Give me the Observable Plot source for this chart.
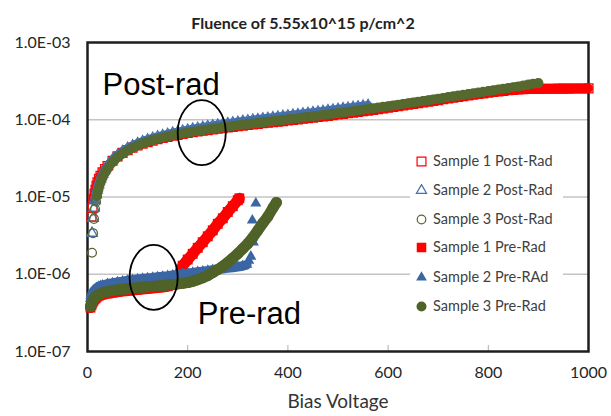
<!DOCTYPE html>
<html>
<head>
<meta charset="utf-8">
<script src="https://cdn.jsdelivr.net/npm/d3@7"></script>
<script src="https://cdn.jsdelivr.net/npm/@observablehq/plot@0.6"></script>
<style>
  html, body { margin: 0; padding: 0; background: #fff; }
  #wrap { position: relative; width: 611px; height: 416px; overflow: hidden; }
  #legend { position: absolute; left: 410px; top: 146px; width: 153px; height: 174px; background: #fff; font-family: Lato, "Open Sans", sans-serif; font-size: 14.5px; color: #404040; }
  .lrow { position: absolute; left: 0; height: 18px; line-height: 18px; white-space: nowrap; }
  .lrow svg { position: absolute; left: 5px; top: 3px; }
  .lrow span { position: absolute; left: 23px; top: 0; }
</style>
</head>
<body>
<div id="wrap"><div id="chart"></div><div id="legend"></div></div>
<script>
// ---- text / ticks ----
const chartTitle = "Fluence of 5.55x10^15 p/cm^2";
const xLabel = "Bias Voltage";
const xTicks = [0, 200, 400, 600, 800, 1000];
const yTicks = [1e-7, 1e-6, 1e-5, 1e-4, 1e-3];
const gridLevels = [1e-6, 1e-5, 1e-4];
const innerTicks = [200, 400, 600, 800];
const legendLabels = ["Sample 1 Post-Rad", "Sample 2 Post-Rad", "Sample 3 Post-Rad", "Sample 1 Pre-Rad", "Sample 2 Pre-RAd", "Sample 3 Pre-Rad"];

// annotations
const noteLabels = ["Post-rad", "Pre-rad"];
const noteV = [30, 220];
const noteI = [2.83e-4, 3.07e-7];
const ringV = [228, 132];
const ringI = [6.8e-5, 9.1e-7];

// ---- series: [bias voltage, current] ----
const post1 = [[8,5.6e-6],[10,7.3e-6],[12,9.4e-6],[14,1.1e-5],[16,1.24e-5],[18,1.4e-5],[20,1.55e-5],[23,1.72e-5],[26,1.88e-5],[30,2.08e-5],[35,2.3e-5],[40,2.52e-5],[50,2.95e-5],[60,3.35e-5],[70,3.72e-5],[80,4.05e-5],[90,4.36e-5],[100,4.64e-5],[110,4.9e-5],[120,5.14e-5],[130,5.37e-5],[140,5.59e-5],[150,5.8e-5],[160,6.0e-5],[170,6.2e-5],[180,6.38e-5],[190,6.56e-5],[200,6.74e-5],[210,6.9e-5],[220,7.05e-5],[230,7.2e-5],[240,7.35e-5],[250,7.5e-5],[260,7.65e-5],[270,7.8e-5],[280,7.95e-5],[290,8.1e-5],[300,8.25e-5],[310,8.4e-5],[320,8.55e-5],[330,8.7e-5],[340,8.85e-5],[350,9.0e-5],[360,9.15e-5],[370,9.3e-5],[380,9.46e-5],[390,9.62e-5],[400,9.78e-5],[410,9.95e-5],[420,1.012e-4],[430,1.03e-4],[440,1.048e-4],[450,1.066e-4],[460,1.085e-4],[470,1.105e-4],[480,1.125e-4],[490,1.146e-4],[500,1.168e-4],[510,1.19e-4],[520,1.213e-4],[530,1.237e-4],[540,1.262e-4],[550,1.288e-4],[560,1.315e-4],[570,1.343e-4],[580,1.372e-4],[590,1.402e-4],[600,1.433e-4],[610,1.465e-4],[620,1.498e-4],[630,1.532e-4],[640,1.567e-4],[650,1.603e-4],[660,1.64e-4],[670,1.678e-4],[680,1.717e-4],[690,1.757e-4],[700,1.798e-4],[710,1.84e-4],[720,1.883e-4],[730,1.927e-4],[740,1.972e-4],[750,2.018e-4],[760,2.065e-4],[770,2.11e-4],[780,2.155e-4],[790,2.2e-4],[800,2.245e-4],[810,2.29e-4],[820,2.33e-4],[830,2.37e-4],[840,2.41e-4],[850,2.44e-4],[860,2.47e-4],[870,2.49e-4],[880,2.5e-4],[890,2.51e-4],[900,2.51e-4],[910,2.52e-4],[920,2.52e-4],[930,2.52e-4],[940,2.53e-4],[950,2.53e-4],[960,2.53e-4],[970,2.54e-4],[980,2.54e-4],[990,2.54e-4],[1000,2.55e-4]];

const post2 = [[9,3.4e-6],[11,5.3e-6],[13,7.2e-6],[15,9.0e-6],[17,1.07e-5],[19,1.23e-5],[22,1.45e-5],[26,1.72e-5],[30,1.97e-5],[35,2.25e-5],[40,2.52e-5],[50,3.02e-5],[60,3.47e-5],[70,3.88e-5],[80,4.26e-5],[90,4.6e-5],[100,4.92e-5],[110,5.22e-5],[120,5.5e-5],[130,5.76e-5],[140,6.01e-5],[150,6.25e-5],[160,6.48e-5],[170,6.7e-5],[180,6.92e-5],[190,7.13e-5],[200,7.34e-5],[210,7.54e-5],[220,7.74e-5],[230,7.94e-5],[240,8.14e-5],[250,8.33e-5],[260,8.52e-5],[270,8.71e-5],[280,8.9e-5],[290,9.09e-5],[300,9.28e-5],[310,9.5e-5],[320,9.68e-5],[330,9.86e-5],[340,1.005e-4],[350,1.024e-4],[360,1.043e-4],[370,1.063e-4],[380,1.083e-4],[390,1.104e-4],[400,1.125e-4],[410,1.146e-4],[420,1.168e-4],[430,1.19e-4],[440,1.213e-4],[450,1.236e-4],[460,1.26e-4],[470,1.285e-4],[480,1.31e-4],[490,1.336e-4],[500,1.362e-4],[510,1.389e-4],[520,1.416e-4],[530,1.444e-4],[540,1.472e-4],[550,1.5e-4],[560,1.53e-4]];

const post3 = [[9,1.9e-6],[11,3.4e-6],[13,5.2e-6],[15,7.0e-6],[17,8.7e-6],[19,1.03e-5],[22,1.26e-5],[26,1.53e-5],[30,1.78e-5],[35,2.06e-5],[40,2.33e-5],[50,2.82e-5],[60,3.25e-5],[70,3.64e-5],[80,4.0e-5],[90,4.33e-5],[100,4.64e-5],[110,4.93e-5],[120,5.2e-5],[130,5.45e-5],[140,5.67e-5],[150,5.88e-5],[160,6.08e-5],[170,6.27e-5],[180,6.46e-5],[190,6.64e-5],[200,6.82e-5],[210,6.99e-5],[220,7.16e-5],[230,7.33e-5],[240,7.49e-5],[250,7.65e-5],[260,7.81e-5],[270,7.97e-5],[280,8.13e-5],[290,8.29e-5],[300,8.45e-5],[310,8.61e-5],[320,8.77e-5],[330,8.93e-5],[340,9.09e-5],[350,9.25e-5],[360,9.42e-5],[370,9.59e-5],[380,9.76e-5],[390,9.93e-5],[400,1.011e-4],[410,1.029e-4],[420,1.048e-4],[430,1.067e-4],[440,1.087e-4],[450,1.107e-4],[460,1.128e-4],[470,1.15e-4],[480,1.172e-4],[490,1.195e-4],[500,1.219e-4],[510,1.243e-4],[520,1.268e-4],[530,1.294e-4],[540,1.321e-4],[550,1.348e-4],[560,1.376e-4],[570,1.405e-4],[580,1.435e-4],[590,1.466e-4],[600,1.498e-4],[610,1.531e-4],[620,1.565e-4],[630,1.6e-4],[640,1.636e-4],[650,1.673e-4],[660,1.711e-4],[670,1.75e-4],[680,1.79e-4],[690,1.831e-4],[700,1.873e-4],[710,1.916e-4],[720,1.96e-4],[730,2.005e-4],[740,2.051e-4],[750,2.098e-4],[760,2.146e-4],[770,2.195e-4],[780,2.245e-4],[790,2.296e-4],[800,2.348e-4],[810,2.4e-4],[820,2.46e-4],[830,2.52e-4],[840,2.58e-4],[850,2.64e-4],[860,2.7e-4],[870,2.77e-4],[880,2.85e-4],[890,2.93e-4],[900,2.98e-4]];

const pre1 = [[6,3.7e-7],[8,4.0e-7],[10,4.3e-7],[12,4.55e-7],[14,4.75e-7],[16,4.9e-7],[18,5.05e-7],[22,5.25e-7],[26,5.4e-7],[30,5.5e-7],[40,5.65e-7],[50,5.8e-7],[60,5.95e-7],[70,6.05e-7],[80,6.15e-7],[90,6.25e-7],[100,6.35e-7],[110,6.45e-7],[120,6.55e-7],[130,6.65e-7],[140,6.75e-7],[150,6.85e-7],[160,7.0e-7],[170,7.3e-7],[180,9.0e-7],[190,1.29e-6],[200,1.55e-6],[210,1.84e-6],[220,2.2e-6],[230,2.6e-6],[240,3.1e-6],[250,3.7e-6],[260,4.5e-6],[270,5.3e-6],[280,6.4e-6],[290,7.6e-6],[300,9.1e-6],[303,9.6e-6]];

const pre2 = [[6,4.8e-7],[8,5.3e-7],[10,5.7e-7],[12,6.0e-7],[14,6.25e-7],[16,6.45e-7],[18,6.65e-7],[22,6.9e-7],[26,7.05e-7],[30,7.2e-7],[40,7.5e-7],[50,7.7e-7],[60,7.9e-7],[70,8.1e-7],[80,8.3e-7],[90,8.45e-7],[100,8.6e-7],[110,8.75e-7],[120,8.9e-7],[130,9.05e-7],[140,9.2e-7],[150,9.35e-7],[160,9.5e-7],[170,9.7e-7],[180,9.9e-7],[190,1.01e-6],[200,1.03e-6],[210,1.05e-6],[220,1.07e-6],[230,1.09e-6],[240,1.11e-6],[250,1.14e-6],[260,1.16e-6],[270,1.18e-6],[280,1.2e-6],[290,1.22e-6],[300,1.25e-6],[310,1.28e-6],[318,1.33e-6],[322,1.5e-6],[326,1.7e-6],[331,2.6e-6],[329,5.0e-6],[336,8.3e-6]];

const pre3 = [[6,3.8e-7],[8,4.15e-7],[10,4.45e-7],[12,4.7e-7],[14,4.9e-7],[16,5.05e-7],[18,5.2e-7],[22,5.45e-7],[26,5.6e-7],[30,5.75e-7],[40,6.0e-7],[50,6.15e-7],[60,6.3e-7],[70,6.4e-7],[80,6.5e-7],[90,6.6e-7],[100,6.7e-7],[110,6.8e-7],[120,6.9e-7],[130,6.95e-7],[140,7.05e-7],[150,7.15e-7],[160,7.25e-7],[170,7.35e-7],[180,7.5e-7],[190,7.65e-7],[200,7.8e-7],[210,8.1e-7],[220,8.5e-7],[230,9.0e-7],[240,9.6e-7],[250,1.05e-6],[260,1.15e-6],[270,1.27e-6],[280,1.42e-6],[290,1.62e-6],[300,1.85e-6],[310,2.15e-6],[320,2.5e-6],[330,3.0e-6],[340,3.7e-6],[350,4.6e-6],[360,5.6e-6],[370,7.2e-6],[377,8.5e-6]];

// ---- styling ----
const RED = "#ff0000", BLUE = "#3b66a3", GREEN = "#4f6228";
const BLUE_H = "#4470ad", GREEN_H = "#56692f";

const rows = pairs => pairs.map(([V, I]) => ({V, I}));

// ellipse symbol for annotation rings
const ellipseSymbol = {
  draw(ctx, size) {
    const r = Math.sqrt(size / Math.PI), rx = r * 0.74, ry = r, k = 0.5523;
    ctx.moveTo(rx, 0);
    ctx.bezierCurveTo(rx, k * ry, k * rx, ry, 0, ry);
    ctx.bezierCurveTo(-k * rx, ry, -rx, k * ry, -rx, 0);
    ctx.bezierCurveTo(-rx, -k * ry, -k * rx, -ry, 0, -ry);
    ctx.bezierCurveTo(k * rx, -ry, rx, -k * ry, rx, 0);
    ctx.closePath();
  }
};

const fmtE = d => {
  const [m, e] = d.toExponential(1).split("e");
  const sign = e[0] === "-" ? "-" : "+";
  const digits = e.replace(/^[+-]/, "").padStart(2, "0");
  return `${m}E${sign}${digits}`;
};

const notes = noteLabels.map((t, i) => ({t, V: noteV[i], I: noteI[i]}));
const rings = ringV.map((V, i) => ({V, I: ringI[i]}));

// each series: a dense band (line through the read points) plus its markers
const band = (data, color, width, extra = {}) =>
  Plot.line(data, {x: "V", y: "I", stroke: color, strokeWidth: width, strokeLinecap: "round", strokeLinejoin: "round", ...extra});
const dense = d => d.I >= 9e-6; // the first few post-rad markers stand apart

const chart = Plot.plot({
  width: 611,
  height: 416,
  marginLeft: 87,
  marginRight: 23,
  marginTop: 42,
  marginBottom: 65,
  style: {fontFamily: "Lato, 'Open Sans', sans-serif", fontSize: "16px", color: "#262626", background: "#fff"},
  x: {domain: [0, 1000]},
  y: {type: "log", domain: [1e-7, 1e-3]},
  marks: [
    Plot.ruleY(gridLevels, {stroke: "#c4c4c4", strokeWidth: 1.5}),
    Plot.tickX(innerTicks, {x: d => d, insetTop: 303, stroke: "#b0b0b0", strokeWidth: 1}),
    Plot.frame({stroke: "#1e1e1e", strokeWidth: 2.5}),
    Plot.axisY(yTicks, {tickSize: 0, tickPadding: 17, tickFormat: fmtE, label: null}),
    Plot.axisX(xTicks, {tickSize: 0, tickPadding: 15, tickFormat: d => String(d), label: null}),

    band(rows(post1), RED, 9, {filter: dense}),
    Plot.dot(rows(post1), {x: "V", y: "I", symbol: "square", r: 5, stroke: RED, fill: "none", strokeWidth: 1.3}),
    band(rows(post2), BLUE_H, 9, {filter: dense}),
    Plot.dot(rows(post2), {x: "V", y: "I", symbol: "triangle", r: 3.9, stroke: BLUE_H, fill: "none", strokeWidth: 1.3}),
    band(rows(post3), GREEN_H, 9, {filter: dense}),
    Plot.dot(rows(post3), {x: "V", y: "I", symbol: "circle", r: 4.4, stroke: GREEN_H, fill: "none", strokeWidth: 1.3}),

    band(rows(pre1), RED, 11),
    Plot.dot(rows(pre1), {x: "V", y: "I", symbol: "square", r: 5.6, fill: RED, stroke: "none"}),
    band(rows(pre2), BLUE, 9.5, {filter: d => d.I < 1.4e-6}),
    Plot.dot(rows(pre2), {x: "V", y: "I", symbol: "triangle", r: 4.1, fill: BLUE, stroke: "none"}),
    band(rows(pre3), GREEN, 11),
    Plot.dot(rows(pre3), {x: "V", y: "I", symbol: "circle", r: 5.5, fill: GREEN, stroke: "none"}),

    Plot.dot(rings, {x: "V", y: "I", symbol: ellipseSymbol, r: 32.5, stroke: "#000", fill: "none", strokeWidth: 1.8}),
    Plot.text(notes, {x: "V", y: "I", text: "t", textAnchor: "start", fontSize: 31, fontFamily: "'Liberation Sans', Arial, sans-serif", fill: "#000"}),
    Plot.text([chartTitle], {text: d => d, frameAnchor: "top", dy: -25, dx: -35, fontWeight: "bold", fontSize: 16, fill: "#222"}),
    Plot.text([xLabel], {text: d => d, frameAnchor: "bottom", dy: 56, fontSize: 19, fill: "#333"})
  ]
});
document.getElementById("chart").appendChild(chart);

// ---- legend (HTML overlay, white box like the original) ----
const legendSymbols = [
  {type: d3.symbolSquare, size: Math.PI * 25, fill: "none", stroke: RED},
  {type: d3.symbolTriangle, size: Math.PI * 14.4, fill: "none", stroke: BLUE_H},
  {type: d3.symbolCircle, size: Math.PI * 18.5, fill: "none", stroke: GREEN_H},
  {type: d3.symbolSquare, size: Math.PI * 29, fill: RED, stroke: "none"},
  {type: d3.symbolTriangle, size: Math.PI * 16, fill: BLUE, stroke: "none"},
  {type: d3.symbolCircle, size: Math.PI * 25, fill: GREEN, stroke: "none"}
];
const rowCenters = [15, 44, 73, 101, 131, 160];
const legend = d3.select("#legend");
legendLabels.forEach((label, i) => {
  const row = legend.append("div").attr("class", "lrow").style("top", (rowCenters[i] - 9) + "px");
  const s = legendSymbols[i];
  row.append("svg").attr("width", 13).attr("height", 13)
    .append("path")
    .attr("transform", "translate(6.5,6.5)")
    .attr("d", d3.symbol(s.type, s.size)())
    .attr("fill", s.fill).attr("stroke", s.stroke).attr("stroke-width", 1.2);
  row.append("span").text(label);
});
</script>
</body>
</html>
